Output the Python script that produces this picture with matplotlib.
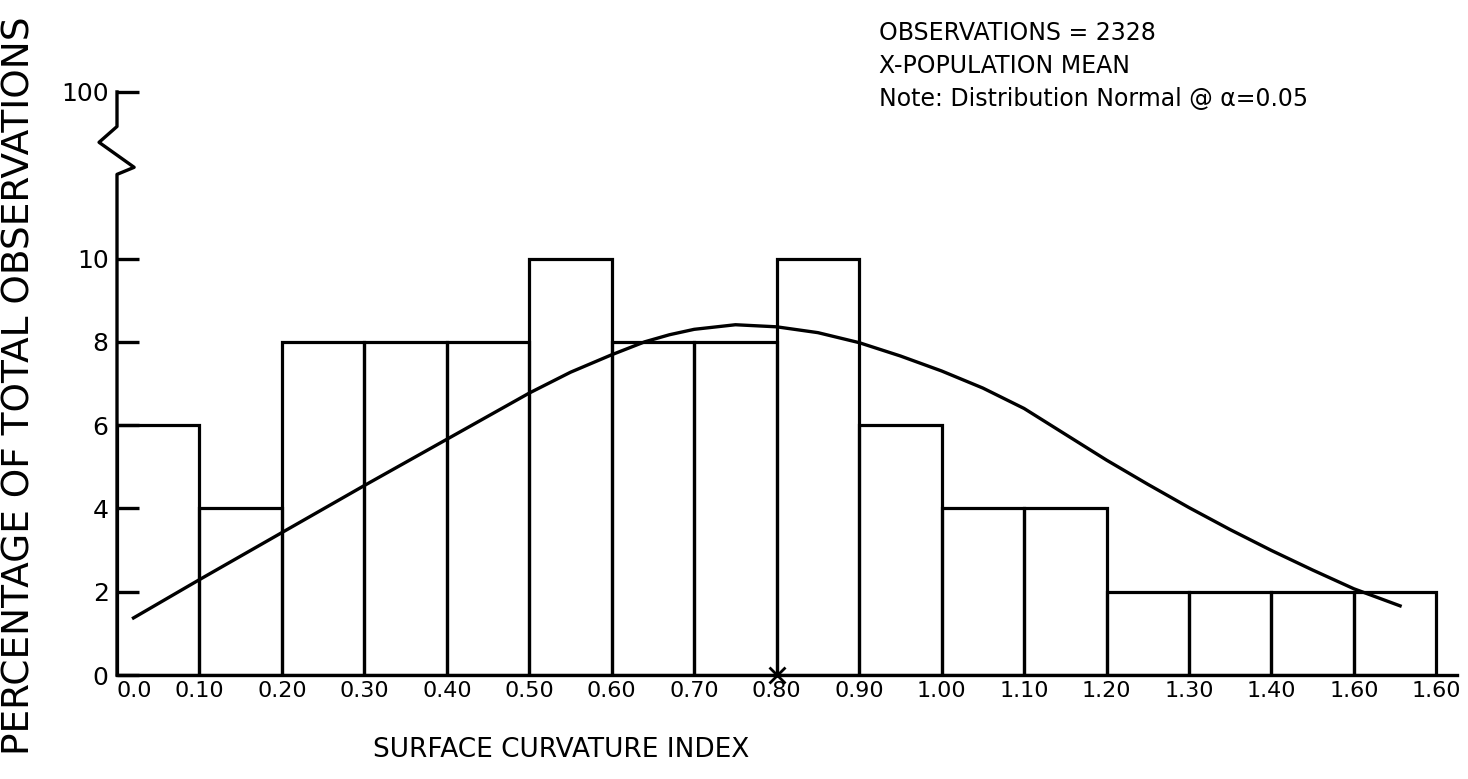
import matplotlib
matplotlib.use("Agg")
import matplotlib.pyplot as plt
import matplotlib.transforms as mtransforms

# ---- data ----
bin_left = [0.0, 0.1, 0.2, 0.3, 0.4, 0.5, 0.6, 0.7, 0.8, 0.9, 1.0, 1.1, 1.2, 1.3, 1.4, 1.5]
bin_pct = [6, 4, 8, 8, 8, 10, 8, 8, 10, 6, 4, 4, 2, 2, 2, 2]
bin_width = 0.1

curve_x = [0.02, 0.10, 0.20, 0.30, 0.40, 0.50, 0.55, 0.60, 0.64, 0.67, 0.70, 0.75, 0.80,
           0.85, 0.90, 0.95, 1.00, 1.05, 1.10, 1.15, 1.20, 1.25, 1.30, 1.35, 1.40,
           1.45, 1.50, 1.556]
curve_y = [1.37, 2.29, 3.42, 4.55, 5.66, 6.77, 7.27, 7.69, 8.00, 8.17, 8.30, 8.41, 8.36,
           8.22, 7.98, 7.66, 7.30, 6.89, 6.40, 5.78, 5.16, 4.58, 4.02, 3.49, 2.99,
           2.52, 2.07, 1.66]

mean_x = 0.80

x_ticks = [0.0, 0.1, 0.2, 0.3, 0.4, 0.5, 0.6, 0.7, 0.8, 0.9, 1.0, 1.1, 1.2, 1.3, 1.4, 1.5, 1.6]
x_tick_labels = ["0.0", "0.10", "0.20", "0.30", "0.40", "0.50", "0.60", "0.70", "0.80",
                 "0.90", "1.00", "1.10", "1.20", "1.30", "1.40", "1.60", "1.60"]
y_ticks = [0, 2, 4, 6, 8, 10, 14]
y_tick_labels = ["0", "2", "4", "6", "8", "10", "100"]

notes = ["OBSERVATIONS = 2328", "X-POPULATION MEAN", "Note: Distribution Normal @ \u03b1=0.05"]

plt.rcParams['font.family'] = ['DejaVu Sans']

fig = plt.figure(figsize=(14.68, 7.79), dpi=100)
ax = fig.add_axes([0.0797, 0.1335, 0.9128, 0.7485])

ax.bar(bin_left, bin_pct, width=bin_width, align='edge', fill=False,
       edgecolor='black', linewidth=2.3, zorder=2)
ax.plot(curve_x, curve_y, color='black', linewidth=2.4, zorder=3,
        solid_joinstyle='round')
ax.plot([mean_x], [0], marker='x', markersize=11, markeredgewidth=2,
        color='black', clip_on=False, zorder=4)

ax.set_xlim(0, 1.625)
ax.set_ylim(0, 14)

for s in ['top', 'right', 'left']:
    ax.spines[s].set_visible(False)
ax.spines['bottom'].set_linewidth(2.4)

# left axis with break
trans = mtransforms.blended_transform_factory(ax.transAxes, ax.transData)
ax.plot([0, 0, 0.0128, -0.0134, 0, 0], [0, 12.02, 12.19, 12.79, 13.17, 14],
        color='black', linewidth=2.4, transform=trans, clip_on=False, zorder=5)

ax.set_yticks(y_ticks)
ax.set_yticklabels(y_tick_labels, fontsize=18)
ax.tick_params(axis='y', direction='in', length=16, width=2.4, pad=6)

ax.set_xticks(x_ticks)
ax.set_xticklabels(x_tick_labels, fontsize=16)
ax.tick_params(axis='x', length=0, pad=4)
ax.get_xticklabels()[0].set_ha('left')

fig.text(0.382, 0.037, "SURFACE CURVATURE INDEX", fontsize=19, ha='center', va='center')
fig.text(0.013, 0.505, "PERCENTAGE OF TOTAL OBSERVATIONS", rotation=90,
         fontsize=27, ha='center', va='center')

for i, t in enumerate(notes):
    fig.text(0.599, 0.957 - i * 0.042, t, fontsize=17, ha='left', va='center')

fig.savefig("out.png", dpi=100)
